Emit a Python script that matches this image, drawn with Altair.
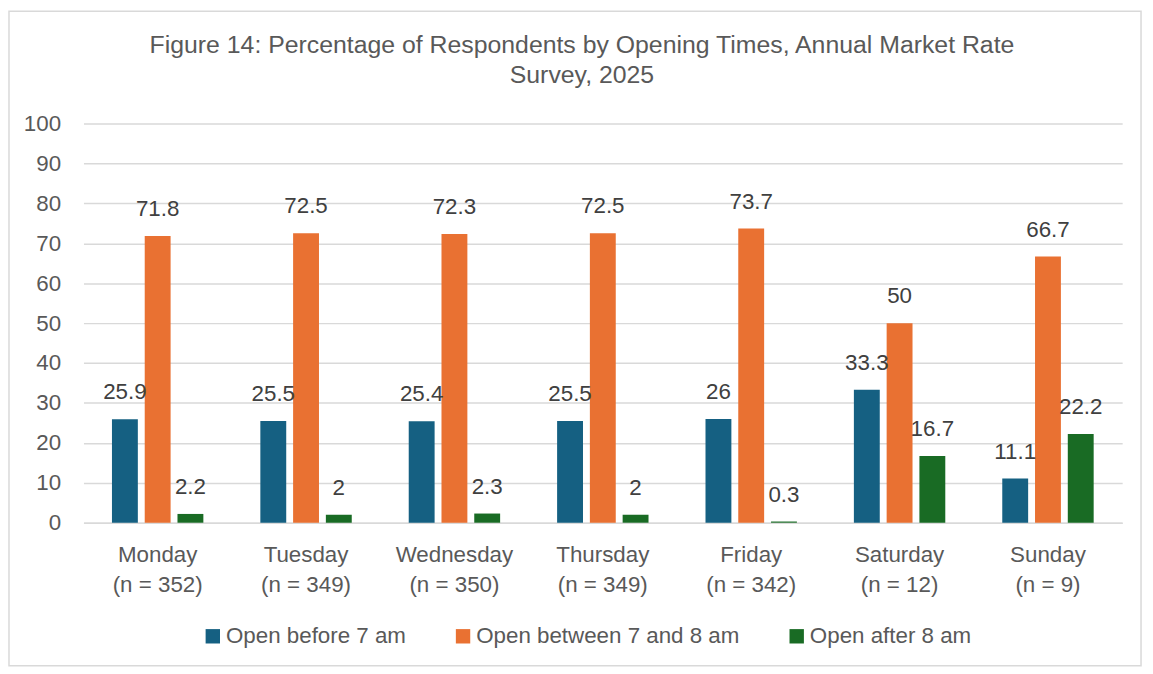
import altair as alt
import pandas as pd

days = ["Monday", "Tuesday", "Wednesday", "Thursday", "Friday", "Saturday", "Sunday"]
n_resp = [352, 349, 350, 349, 342, 12, 9]
series = ["Open before 7 am", "Open between 7 and 8 am", "Open after 8 am"]
before7 = [25.9, 25.5, 25.4, 25.5, 26, 33.3, 11.1]
between7_8 = [71.8, 72.5, 72.3, 72.5, 73.7, 50, 66.7]
after8 = [2.2, 2, 2.3, 2, 0.3, 16.7, 22.2]
colors = ["#156082", "#E97132", "#196B24"]
y_ticks = list(range(0, 101, 10))

FONT = "Liberation Sans"
FS = 22.5
cats = [f"{d}\n(n = {n})" for d, n in zip(days, n_resp)]
rows = []
for i, c in enumerate(cats):
    for s, vals in zip(series, [before7, between7_8, after8]):
        rows.append({"cat": c, "series": s, "value": vals[i], "label": f"{vals[i]:g}"})
df = pd.DataFrame(rows)

base = alt.Chart(df).encode(
    x=alt.X(
        "cat:N",
        sort=cats,
        scale=alt.Scale(paddingInner=0.384, paddingOuter=0.192),
        axis=alt.Axis(
            title=None,
            labelExpr="split(datum.label, '\\n')",
            labelAngle=0,
            labelFont=FONT,
            labelFontSize=FS,
            labelColor="#595959",
            labelLineHeight=30,
            labelPadding=21,
            domainColor="#D9D9D9",
            domainWidth=1.5,
            ticks=False,
            grid=False,
        ),
    ),
    xOffset=alt.XOffset("series:N", sort=series, scale=alt.Scale(paddingInner=0.21, paddingOuter=0)),
    y=alt.Y(
        "value:Q",
        scale=alt.Scale(domain=[0, 100]),
        axis=alt.Axis(
            title=None,
            values=y_ticks,
            labelFont=FONT,
            labelFontSize=FS,
            labelColor="#595959",
            labelPadding=23,
            domain=False,
            ticks=False,
            gridColor="#D9D9D9",
            gridWidth=1.5,
        ),
    ),
)

bars = base.mark_bar().encode(
    color=alt.Color(
        "series:N",
        sort=series,
        scale=alt.Scale(domain=series, range=colors),
        legend=alt.Legend(
            title=None,
            orient="none",
            legendX=119,
            legendY=505,
            direction="horizontal",
            symbolType="square",
            symbolSize=210,
            symbolStrokeWidth=0,
            labelFont=FONT,
            labelFontSize=FS,
            labelColor="#595959",
            labelOffset=2,
            labelLimit=400,
            columnPadding=46,
        ),
    )
)

text = base.mark_text(dy=-27, fontSize=FS, font=FONT, color="#404040").encode(text="label:N")

border = alt.Chart(alt.Data(values=[{}])).mark_rect(
    fill="transparent", stroke="#D9D9D9", strokeWidth=1.5
).encode(x=alt.value(-75), x2=alt.value(1065), y=alt.value(-113), y2=alt.value(546))

chart = (
    alt.layer(border, bars, text)
    .properties(
        width=1046,
        height=402,
        autosize=alt.AutoSizeParams(type="none"),
        padding={"left": 76, "top": 114, "right": 23, "bottom": 150},
        title=alt.TitleParams(
            ["Figure 14: Percentage of Respondents by Opening Times, Annual Market Rate", "Survey, 2025"],
            font=FONT,
            fontSize=25,
            fontWeight="normal",
            color="#595959",
            anchor="middle",
            frame="group",
            dx=-21,
            dy=78,
            offset=0,
            lineHeight=30,
        ),
    )
    .configure_view(stroke=None)
)

chart.save("out.html", embed_options={"renderer": "svg", "actions": False})
